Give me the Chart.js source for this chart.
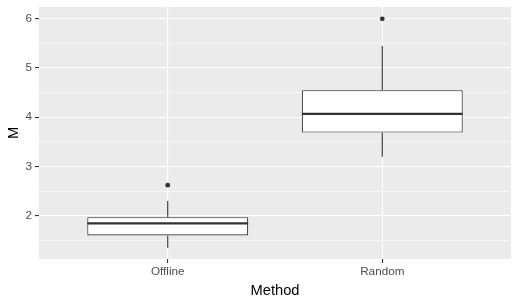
<!DOCTYPE html>
<html>
<head>
<meta charset="utf-8">
<script src="https://cdn.jsdelivr.net/npm/chart.js@4/dist/chart.umd.min.js"></script>
<style>
  body { margin: 0; background: #fff; }
  #wrap { width: 518px; height: 306px; }
</style>
</head>
<body>
<div id="wrap"><canvas id="boxChart"></canvas></div>
<script>
// box plot values
const methods = ['Offline', 'Random'];
const whiskerLow = [1.35, 3.20];
const q1 = [1.60, 3.69];
const median = [1.845, 4.07];
const q3 = [1.97, 4.55];
const whiskerHigh = [2.30, 5.45];
const outliers = [[2.62], [6.0]];
const yTicks = [2, 3, 4, 5, 6];
const yMinorTicks = [1.5, 2.5, 3.5, 4.5, 5.5];

const ink = '#333333';

// grey panel behind the grid
const panelBg = {
    id: 'panelBg',
    beforeDraw(chart) {
        const { ctx, chartArea: a } = chart;
        ctx.save();
        ctx.fillStyle = '#EBEBEB';
        ctx.fillRect(a.left, a.top, a.right - a.left, a.bottom - a.top);
        ctx.restore();
    }
};

// whiskers and median line, placed with the chart's own scales
const boxParts = {
    id: 'boxParts',
    afterDatasetsDraw(chart) {
        const { ctx } = chart;
        const y = chart.scales.y;
        const bars = chart.getDatasetMeta(0).data;
        ctx.save();
        ctx.strokeStyle = ink;
        bars.forEach((bar, i) => {
            ctx.lineWidth = 1.1;
            ctx.beginPath();
            ctx.moveTo(bar.x, y.getPixelForValue(q3[i]));
            ctx.lineTo(bar.x, y.getPixelForValue(whiskerHigh[i]));
            ctx.moveTo(bar.x, y.getPixelForValue(q1[i]));
            ctx.lineTo(bar.x, y.getPixelForValue(whiskerLow[i]));
            ctx.stroke();
            ctx.lineWidth = 2.2;
            const my = y.getPixelForValue(median[i]);
            ctx.beginPath();
            ctx.moveTo(bar.x - bar.width / 2, my);
            ctx.lineTo(bar.x + bar.width / 2, my);
            ctx.stroke();
        });
        ctx.restore();
    }
};

const outlierPoints = [];
outliers.forEach((list, i) => list.forEach(v => outlierPoints.push({ x: i + 1, y: v })));

new Chart(document.getElementById('boxChart'), {
    type: 'bar',
    data: {
        datasets: [{
            data: methods.map((m, i) => ({ x: i + 1, y: [q1[i], q3[i]] })),
            backgroundColor: '#FFFFFF',
            borderColor: ink,
            borderWidth: 1.1,
            borderSkipped: false,
            barPercentage: 0.75,
            categoryPercentage: 1,
            order: 2
        }, {
            type: 'scatter',
            data: outlierPoints,
            pointRadius: 2.4,
            pointBackgroundColor: ink,
            pointBorderWidth: 0,
            order: 1
        }]
    },
    options: {
        responsive: true,
        maintainAspectRatio: false,
        animation: false,
        layout: { padding: { top: 7, right: 7, left: 0, bottom: 0 } },
        plugins: { legend: { display: false }, tooltip: { enabled: false } },
        scales: {
            x: {
                type: 'linear',
                offset: false,
                min: 0.4,
                max: 2.6,
                afterBuildTicks(scale) {
                    scale.ticks = methods.map((m, i) => ({ value: i + 1 }));
                },
                afterFit(scale) {
                    scale.height = 47;
                    scale.paddingLeft = 0;
                    scale.paddingRight = 0;
                },
                ticks: {
                    color: '#4D4D4D',
                    font: { family: 'Liberation Sans, Arial', size: 11.7 },
                    padding: 2,
                    autoSkip: false,
                    maxRotation: 0,
                    callback: v => methods[Math.round(v) - 1]
                },
                grid: { offset: false, color: '#FFFFFF', lineWidth: 1.1, tickColor: ink, tickWidth: 1.1, tickLength: 4 },
                border: { display: false },
                title: {
                    display: true,
                    text: 'Method',
                    color: '#000000',
                    font: { family: 'Liberation Sans, Arial', size: 14.7 },
                    padding: { top: 0, bottom: 6 }
                }
            },
            y: {
                min: 1.12,
                max: 6.24,
                afterBuildTicks(scale) {
                    scale.ticks = yMinorTicks.concat(yTicks).sort((a, b) => a - b).map(v => ({ value: v }));
                },
                afterFit(scale) {
                    scale.width = 39;
                    scale.paddingTop = 0;
                    scale.paddingBottom = 0;
                },
                ticks: {
                    color: '#4D4D4D',
                    font: { family: 'Liberation Sans, Arial', size: 11.7 },
                    padding: 3,
                    autoSkip: false,
                    callback: v => yTicks.includes(v) ? String(v) : ''
                },
                grid: {
                    color: '#FFFFFF',
                    lineWidth: c => yTicks.includes(c.tick.value) ? 1.1 : 0.55,
                    tickColor: c => yTicks.includes(c.tick.value) ? ink : 'rgba(0,0,0,0)',
                    tickWidth: 1.1,
                    tickLength: 4
                },
                border: { display: false },
                title: {
                    display: true,
                    text: 'M',
                    color: '#000000',
                    font: { family: 'Liberation Sans, Arial', size: 14.7 },
                    padding: { top: 5, bottom: 0 }
                }
            }
        }
    },
    plugins: [panelBg, boxParts]
});
</script>
</body>
</html>
